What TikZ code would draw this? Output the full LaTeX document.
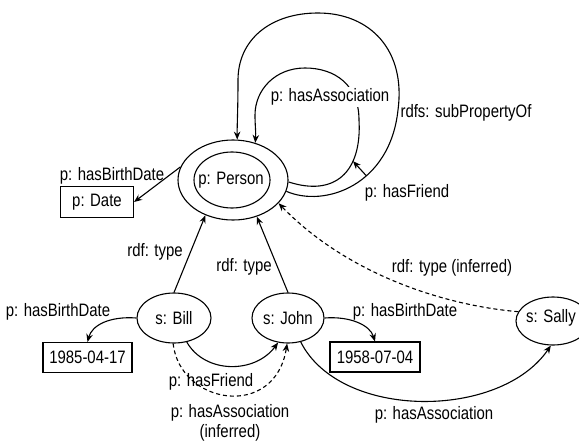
\documentclass[tikz,border=0pt]{standalone}
\usepackage{fontspec}
\setmainfont{Liberation Sans}[FakeStretch=0.83]
\usetikzlibrary{arrows.meta,shapes.geometric}
\begin{document}
\begin{tikzpicture}[x=1pt,y=-1pt,
  every node/.style={font=\fontsize{18}{21}\selectfont, text=black},
  ell/.style={draw, ellipse, inner sep=0pt, line width=1.1pt},
  box/.style={draw, rectangle, inner sep=0pt, line width=1.1pt},
  arr/.style={line width=1.1pt, -{Stealth[length=8pt,width=6.5pt]}},
  darr/.style={arr, dash pattern=on 4pt off 3pt}]
\useasboundingbox (0,0) rectangle (579,442);
\clip (0,0) rectangle (579,442);
% nodes
\node[ell, minimum width=110, minimum height=80] (P) at (233,180) {};
\node[ell, minimum width=76, minimum height=56] (Pi) at (232,180) {};
\node (Pt) at (231,180) {p: Person};
\node[box, minimum width=73, minimum height=31] (Date) at (97,202) {p: Date};
\node[ell, minimum width=74, minimum height=50] (B) at (174,318) {};
\node (Bt) at (174,318) {s: Bill};
\node[ell, minimum width=72, minimum height=50] (J) at (288,318) {};
\node (Jt) at (288,318) {s: John};
\node[ell, minimum width=74, minimum height=48] (S) at (553,321) {};
\node (St) at (551,318) {s: Sally};
\node[box, minimum width=89, minimum height=30] (D1) at (87.5,357.5) {1985-04-17};
\node[box, minimum width=90, minimum height=30] (D2) at (375,357) {1958-07-04};
% loops on Person
\draw[arr] (P.-12) .. controls (325,208) and (390,185) .. coordinate[pos=0.6] (of) (398,110)
  .. controls (406,50) and (370,13) .. (318,13)
  .. controls (270,13) and (238,40) .. (238,80)
  .. controls (238,110) and (237,125) .. (P.84);
\draw[arr] (P.-2) .. controls (335,197) and (362,172) .. coordinate[pos=0.68] (if) (359,120)
  .. controls (359,85) and (335,68) .. (305,68)
  .. controls (275,68) and (255,90) .. (255,115)
  .. controls (255,125) and (256,133) .. (P.59);
\draw[arr] (of) -- (if);
% other edges
\draw[arr] (P.166) -- (Date.east);
\draw[arr] (B.north) -- (P.232);
\draw[arr] (J.north) -- (P.303);
\draw[darr] (S.165) .. controls (440,305) and (345,272) .. (P.-27);
\draw[arr] (B.west) .. controls (110,316) and (92,325) .. (D1.north);
\draw[arr] (J.east) .. controls (350,316) and (370,325) .. (D2.north);
\draw[arr] (B.-62) .. controls (205,374) and (255,374) .. (J.248);
\draw[darr] (B.268) .. controls (180,405) and (275,420) .. (J.268);
\draw[arr] (J.-62) .. controls (340,420) and (500,420) .. (S.-95);
% labels
\node (l1) at (112,176) {p: hasBirthDate};
\node[fill=white, inner sep=1.5pt] (l2) at (330,97) {p: hasAssociation};
\node (l3) at (466,113) {rdfs: subPropertyOf};
\node (l4) at (407,193) {p: hasFriend};
\node (l5) at (155,252) {rdf: type};
\node (l6) at (244,267) {rdf: type};
\node (l7) at (452,268) {rdf: type (inferred)};
\node (l8) at (58,312) {p: hasBirthDate};
\node (l9) at (405,312) {p: hasBirthDate};
\node (l10) at (211,382) {p: hasFriend};
\node (l11) at (230,413) {p: hasAssociation};
\node (l12) at (230,433) {(inferred)};
\node (l13) at (434,415) {p: hasAssociation};
\end{tikzpicture}
\end{document}
